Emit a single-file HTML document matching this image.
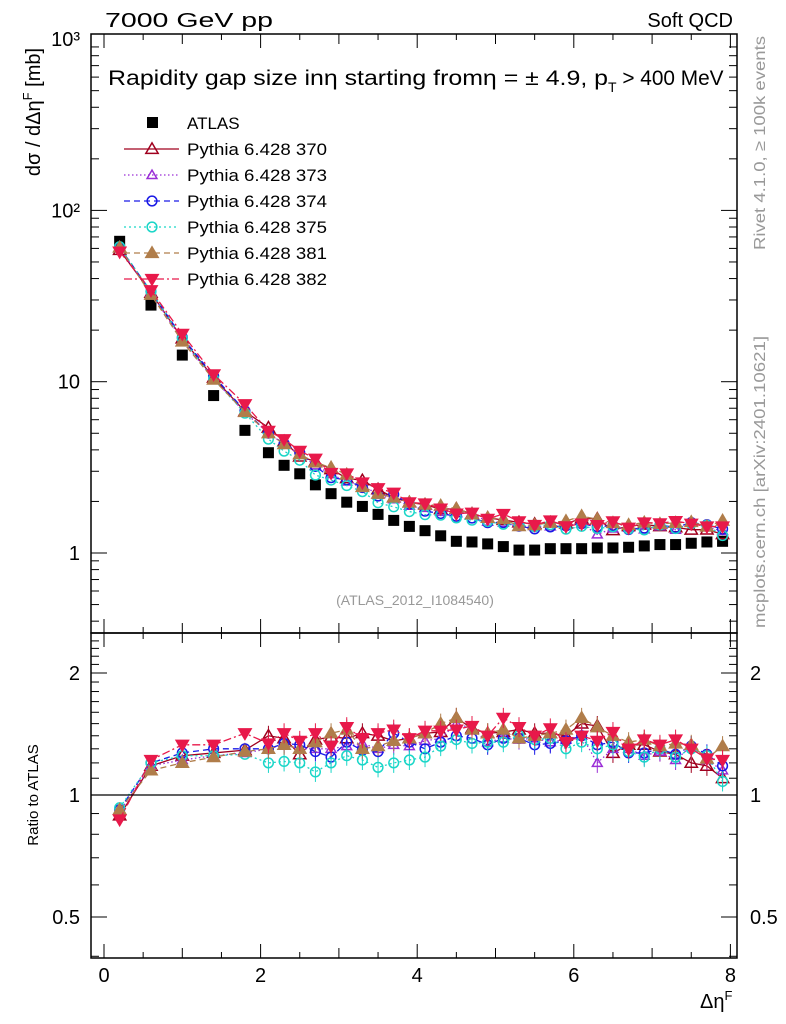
<!DOCTYPE html>
<html><head><meta charset="utf-8"><style>
body{margin:0;background:#fff;}
svg{display:block;font-family:"Liberation Sans",sans-serif;}
</style></head><body>
<svg id="chart" width="786" height="1024" viewBox="0 0 786 1024">
<rect width="786" height="1024" fill="#fff"/>
<g id="main-marks"></g>
<g id="ratio-marks"></g>
<g id="axes"></g>
<rect x="91" y="34" width="646" height="599" fill="none" stroke="#000" stroke-width="1.5"/>
<rect x="91" y="633" width="646" height="325" fill="none" stroke="#000" stroke-width="1.5"/>
<text x="105" y="27" font-size="20" textLength="168" lengthAdjust="spacingAndGlyphs">7000 GeV pp</text>
<text x="733" y="27" font-size="20" text-anchor="end">Soft QCD</text>
<text x="108" y="85" font-size="21"><tspan textLength="500" lengthAdjust="spacingAndGlyphs">Rapidity gap size inη starting fromη = ± 4.9, p</tspan><tspan font-size="14" dy="7">T</tspan><tspan dy="-7" textLength="107" lengthAdjust="spacingAndGlyphs"> &gt; 400 MeV</tspan></text>
<text x="415" y="605" font-size="14" fill="#999" text-anchor="middle">(ATLAS_2012_I1084540)</text>
<text transform="translate(40,112) rotate(-90)" font-size="20" text-anchor="middle">dσ / dΔη<tspan font-size="13" dy="-8">F</tspan><tspan dy="8"> [mb]</tspan></text>
<text transform="translate(38,795) rotate(-90)" font-size="15" text-anchor="middle">Ratio to ATLAS</text>
<text x="700" y="1008" font-size="20">Δη<tspan font-size="13" dy="-8">F</tspan></text>
<text transform="translate(765,143) rotate(-90)" font-size="16" fill="#999" text-anchor="middle" textLength="214" lengthAdjust="spacingAndGlyphs">Rivet 4.1.0, ≥ 100k events</text>
<text transform="translate(765,482) rotate(-90)" font-size="16" fill="#999" text-anchor="middle" textLength="292" lengthAdjust="spacingAndGlyphs">mcplots.cern.ch [arXiv:2401.10621]</text>
<g id="legend"></g>
</svg>
<script>
const xBins=[0.2,0.6,1.0,1.4,1.8,2.1,2.3,2.5,2.7,2.9,3.1,3.3,3.5,3.7,3.9,4.1,4.3,4.5,4.7,4.9,5.1,5.3,5.5,5.7,5.9,6.1,6.3,6.5,6.7,6.9,7.1,7.3,7.5,7.7,7.9];
const atlasVals=[66,28,14.3,8.3,5.2,3.85,3.25,2.9,2.5,2.22,1.98,1.87,1.68,1.55,1.43,1.35,1.26,1.17,1.16,1.13,1.09,1.04,1.04,1.06,1.06,1.06,1.07,1.07,1.08,1.1,1.12,1.12,1.14,1.16,1.17];
const r370=[0.89,1.18,1.25,1.27,1.29,1.40,1.38,1.26,1.37,1.39,1.38,1.42,1.40,1.36,1.38,1.42,1.43,1.55,1.46,1.42,1.43,1.45,1.42,1.42,1.40,1.50,1.48,1.27,1.33,1.33,1.28,1.26,1.20,1.18,1.10];
const r373=[0.91,1.18,1.22,1.25,1.27,1.30,1.33,1.30,1.30,1.30,1.32,1.34,1.30,1.33,1.32,1.36,1.38,1.50,1.46,1.35,1.38,1.37,1.38,1.35,1.37,1.40,1.20,1.30,1.30,1.25,1.28,1.22,1.32,1.22,1.15];
const r374=[0.92,1.20,1.27,1.30,1.30,1.30,1.34,1.33,1.28,1.24,1.35,1.29,1.28,1.42,1.35,1.30,1.35,1.40,1.38,1.33,1.38,1.38,1.33,1.34,1.36,1.40,1.33,1.35,1.27,1.27,1.30,1.26,1.32,1.26,1.18];
const r375=[0.93,1.20,1.25,1.25,1.26,1.20,1.21,1.20,1.14,1.20,1.25,1.22,1.17,1.20,1.22,1.24,1.32,1.37,1.34,1.35,1.35,1.40,1.37,1.38,1.30,1.35,1.30,1.33,1.28,1.24,1.30,1.24,1.30,1.25,1.08];
const r381=[0.92,1.15,1.20,1.24,1.28,1.30,1.33,1.30,1.35,1.42,1.45,1.30,1.32,1.36,1.38,1.42,1.50,1.55,1.45,1.42,1.45,1.38,1.40,1.42,1.45,1.55,1.47,1.40,1.35,1.37,1.32,1.34,1.33,1.23,1.32];
const r382=[0.87,1.22,1.33,1.33,1.42,1.34,1.42,1.36,1.42,1.32,1.47,1.38,1.42,1.45,1.38,1.44,1.44,1.45,1.48,1.40,1.55,1.47,1.40,1.46,1.35,1.40,1.36,1.43,1.30,1.37,1.33,1.37,1.30,1.23,1.22];
const xTickLabels=[0,2,4,6,8];
const mainTickVals=[1000,100,10,1];
const mainTickLabels=["10³","10²","10","1"];
const ratioTickVals=[2,1,0.5];
const ratioTickLabels=["2","1","0.5"];
const seriesNames=["Pythia 6.428 370","Pythia 6.428 373","Pythia 6.428 374","Pythia 6.428 375","Pythia 6.428 381","Pythia 6.428 382"];

const NS="http://www.w3.org/2000/svg";
const X=v=>104+78.3*v;
const YM=v=>553-171.3*Math.log10(v);
const YR=v=>795-405.3*Math.log10(v);
function mk(tag,attrs,parent){const e=document.createElementNS(NS,tag);for(const k in attrs)e.setAttribute(k,attrs[k]);parent.appendChild(e);return e;}
const styles=[
 {c:"#a0001e",dash:"",m:"tri",fill:false},
 {c:"#9a2ed6",dash:"1.5,2.5",m:"tri",fill:false,s:0.8},
 {c:"#1a1ae6",dash:"6,4",m:"circ",fill:false},
 {c:"#1ad6c8",dash:"2,3",m:"circ",fill:false},
 {c:"#b07d4a",dash:"6,4",m:"tri",fill:true},
 {c:"#e8194a",dash:"8,3,2,3",m:"tri-down",fill:true}
];
const ratios=[r370,r373,r374,r375,r381,r382];
function marker(g,st,x,y,sc){
 sc=sc||0.88;const s=(st.s||1)*sc;let e;
 if(st.m==="circ"){e=mk("circle",{cx:x,cy:y,r:5.5*s},g);}
 else if(st.m==="tri"){e=mk("polygon",{points:`${x},${y-7*s} ${x-7*s},${y+5*s} ${x+7*s},${y+5*s}`},g);}
 else{e=mk("polygon",{points:`${x},${y+7*s} ${x-7*s},${y-5*s} ${x+7*s},${y-5*s}`},g);}
 e.setAttribute("fill",st.fill?st.c:"none");e.setAttribute("stroke",st.c);e.setAttribute("stroke-width",1.5);
 return e;
}
const gm=document.getElementById("main-marks"), gr=document.getElementById("ratio-marks");
atlasVals.forEach((v,i)=>{
 const r=mk("rect",{x:X(xBins[i])-5.5,y:YM(v)-5.5,width:11,height:11,fill:"#000"},gm);
 
 
});
ratios.forEach((rr,k)=>{
 const st=styles[k];
 const gs=mk("g",{},gm);
 
 
 const vals=rr.map((r,i)=>r*atlasVals[i]);
 mk("polyline",{points:vals.map((v,i)=>X(xBins[i])+","+YM(v)).join(" "),fill:"none",stroke:st.c,"stroke-width":1.3,"stroke-dasharray":st.dash},gs);
 vals.forEach((v,i)=>marker(gs,st,X(xBins[i]),YM(v)));
 const gq=mk("g",{},gr);
 
 
 mk("polyline",{points:rr.map((v,i)=>X(xBins[i])+","+YR(v)).join(" "),fill:"none",stroke:st.c,"stroke-width":1.3,"stroke-dasharray":st.dash},gq);
 rr.forEach((v,i)=>{
  const y=YR(v);
  if(xBins[i]>2) mk("line",{x1:X(xBins[i]),x2:X(xBins[i]),y1:y-10,y2:y+10,stroke:st.c,"stroke-width":1},gq);
  marker(gq,st,X(xBins[i]),y);
 });
});
mk("line",{x1:91,x2:737,y1:YR(1),y2:YR(1),stroke:"#000","stroke-width":1.2},gr);
const ga=document.getElementById("axes");
for(let v=0;v<=8.2;v+=0.5){
 const x=X(v);const L=(Math.abs(v%2)<1e-6)?14:(Math.abs(v%1)<1e-6?10:6);
 [[34,1],[633,-1],[633,1],[958,-1]].forEach(([y,d])=>mk("line",{x1:x,x2:x,y1:y,y2:y+d*L,stroke:"#000","stroke-width":1},ga));
}
xTickLabels.forEach(v=>{const t=mk("text",{x:X(v),y:982,"font-size":20,"text-anchor":"middle"},ga);t.textContent=v;
 
 });
for(let d=-1;d<3;d++)for(let m=1;m<10;m++){
 const v=m*Math.pow(10,d);const y=YM(v);if(y<34||y>633)continue;
 const L=m===1?16:8;
 mk("line",{x1:91,x2:91+L,y1:y,y2:y,stroke:"#000"},ga);
 mk("line",{x1:737,x2:737-L,y1:y,y2:y,stroke:"#000"},ga);
}
mainTickVals.forEach((v,i)=>{const t=mk("text",{x:80,y:YM(v)+7,"font-size":20,"text-anchor":"end"},ga);t.textContent=mainTickLabels[i];
 
 });
for(let v=0.4;v<=2.5;v+=0.1){
 const y=YR(v);if(y<633||y>958)continue;
 const big=[0.5,1,2].some(q=>Math.abs(q-v)<1e-6);const L=big?16:8;
 mk("line",{x1:91,x2:91+L,y1:y,y2:y,stroke:"#000"},ga);
 mk("line",{x1:737,x2:737-L,y1:y,y2:y,stroke:"#000"},ga);
}
ratioTickVals.forEach((v,i)=>{
 const t=mk("text",{x:80,y:YR(v)+7,"font-size":20,"text-anchor":"end"},ga);t.textContent=ratioTickLabels[i];
 
 
 const t2=mk("text",{x:750,y:YR(v)+7,"font-size":20},ga);t2.textContent=ratioTickLabels[i];
 
 
});
const gl=document.getElementById("legend");
const a=mk("rect",{x:147,y:117,width:11,height:11,fill:"#000"},gl);


const at=mk("text",{x:187,y:129,"font-size":17},gl);at.textContent="ATLAS";


seriesNames.forEach((n,k)=>{
 const y=149+26*k;const st=styles[k];
 const ge=mk("g",{},gl);
 
 
 mk("line",{x1:124,x2:179,y1:y,y2:y,stroke:st.c,"stroke-width":1.3,"stroke-dasharray":st.dash},ge);
 marker(ge,st,152,y);
 const t=mk("text",{x:187,y:y+6,"font-size":17,textLength:140,lengthAdjust:"spacingAndGlyphs"},ge);t.textContent=n;
});
</script>
</body></html>
